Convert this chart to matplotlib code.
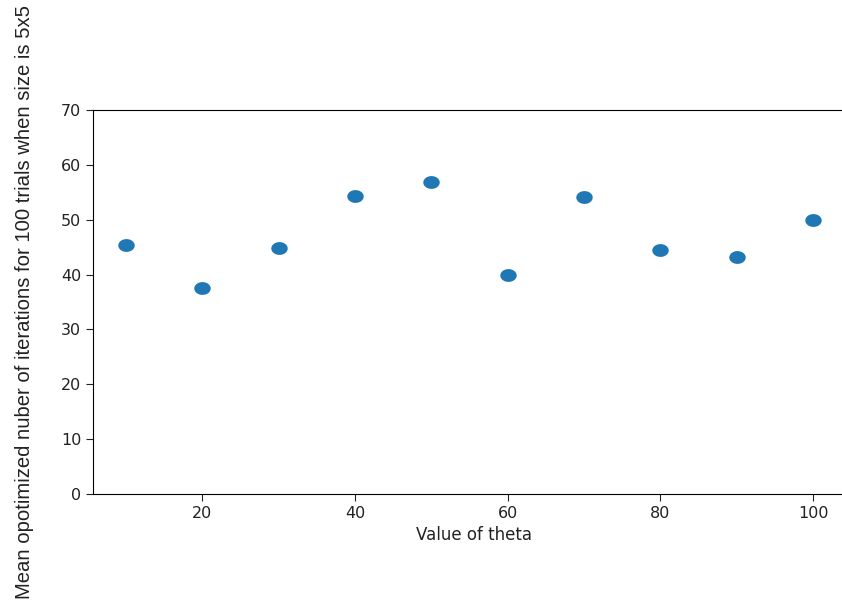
import numpy as np
import matplotlib
matplotlib.use("Agg")
import matplotlib.pyplot as plt
from matplotlib.path import Path

theta = [10, 20, 30, 40, 50, 60, 70, 80, 90, 100]
mean_iters = [45.4, 37.6, 44.8, 54.4, 56.8, 40.0, 54.2, 44.5, 43.2, 50.0]
x_ticks = [20, 40, 60, 80, 100]
y_ticks = [0, 10, 20, 30, 40, 50, 60, 70]

# markers in the reference are slightly wider than tall
t = np.linspace(0, 2 * np.pi, 60)
ellipse = Path(np.column_stack([np.cos(t), 0.78 * np.sin(t)]), closed=True)

fig = plt.figure(figsize=(8.42, 6.03), dpi=100)
ax = fig.add_axes([93 / 842, 109 / 603, 762 / 842, 384 / 603])
ax.scatter(theta, mean_iters, marker=ellipse, s=140, color="#1f77b4", linewidths=0)

ax.set_xlim(5.7, 105.5)
ax.set_ylim(0, 70)
ax.set_xticks(x_ticks)
ax.set_yticks(y_ticks)
ax.tick_params(labelsize=11.5, length=5, colors="#222222")
ax.set_xlabel("Value of theta", fontsize=12, color="#222222")
ax.set_ylabel("Mean opotimized nuber of iterations for 100 trials when size is 5x5",
              fontsize=14.6, family=["Liberation Sans"], color="#222222", labelpad=19)

fig.savefig("out.png", dpi=100)
